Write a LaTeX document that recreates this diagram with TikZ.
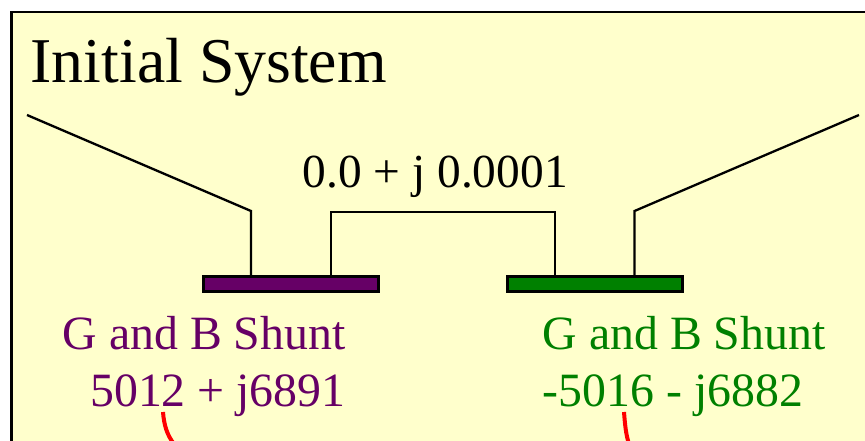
\documentclass[tikz,border=0pt]{standalone}
\usepackage{fontspec}
\setmainfont{Liberation Serif}
\definecolor{panelbg}{HTML}{FFFFCC}
\definecolor{buspurple}{HTML}{660066}
\definecolor{busgreen}{HTML}{008000}
\tikzset{
	wire/.style={line width=2.3pt,black,line join=miter},
	busbar/.style={draw=black,line width=2.2pt,minimum width=175pt,minimum height=15pt,inner sep=0pt},
	label48/.style={font=\fontsize{47.8}{48}\selectfont,anchor=base west,inner sep=0pt},
	redmark/.style={red,line width=4pt}
}
\begin{document}
\begin{tikzpicture}[x=1pt,y=-1pt]
	\useasboundingbox (0,0) rectangle (865,441);
	\begin{scope}
		\clip (0,0) rectangle (865,441);
		\draw [fill=panelbg,draw=black,line width=2.6pt] (11.5,12) rectangle (880,460);
		\node [label48,font=\fontsize{63.8}{64}\selectfont] (title) at (30.5,83) {Initial System};
		\node [label48,font=\fontsize{47.4}{48}\selectfont] (link) at (302.5,187) {0.0 + j 0.0001};
		\node [busbar,fill=buspurple] (busA) at (291,284) {};
		\node [busbar,fill=busgreen] (busB) at (595,284) {};
		\node [label48,text=buspurple] (shuntA) at (62.5,349) {G and B Shunt};
		\node [label48,text=buspurple] (valueA) at (90,406) {5012 + j6891};
		\node [label48,text=busgreen] (shuntB) at (542.5,349) {G and B Shunt};
		\node [label48,text=busgreen] (valueB) at (542.5,406) {-5016 - j6882};
		\coordinate (feedA) at (27,115);
		\coordinate (feedB) at (859,115);
		\coordinate (tapA) at (251,276);
		\coordinate (tapB) at (331,276);
		\coordinate (tapC) at (555,276);
		\coordinate (tapD) at (634.5,276);
		\draw [wire] (feedA) -- (tapA |- 0,211) -- (tapA);
		\draw [wire] (tapB) -- (tapB |- 0,212) -- (tapC |- 0,212) -- (tapC);
		\draw [wire] (tapD) -- (tapD |- 0,211) -- (feedB);
		\draw [redmark] (163,412) .. controls (164,425) and (167,435) .. (174,444);
		\draw [redmark] (624,412) .. controls (625,425) and (626,435) .. (629,444);
	\end{scope}
\end{tikzpicture}
\end{document}
